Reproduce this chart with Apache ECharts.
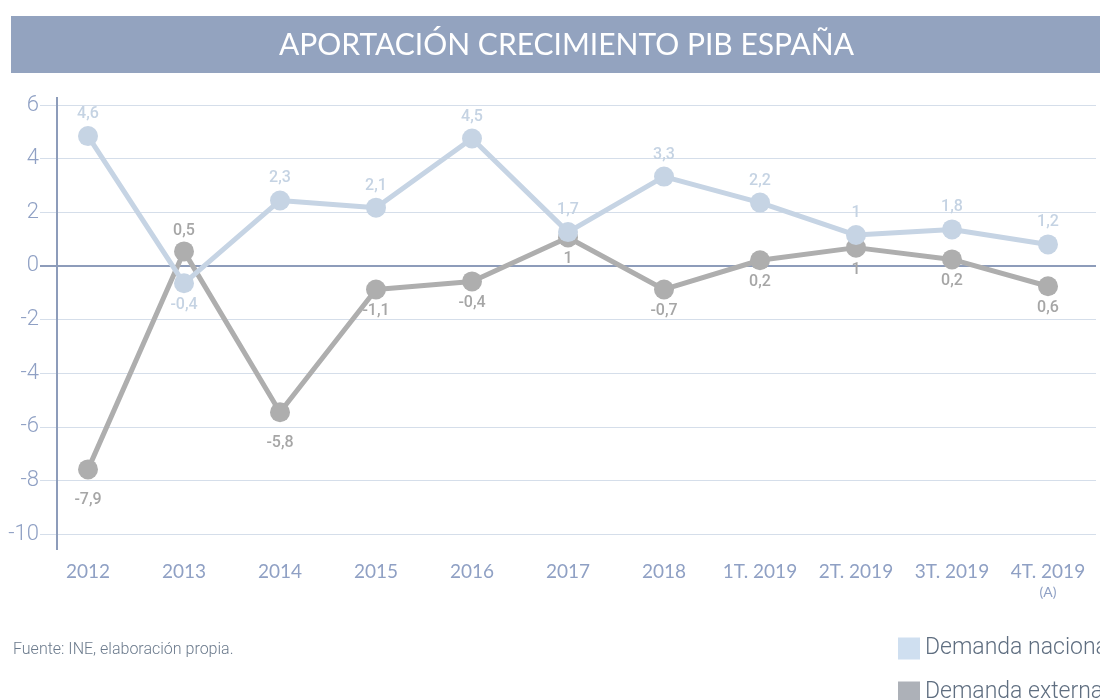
<!DOCTYPE html>
<html>
<head>
<meta charset="utf-8">
<script src="https://cdn.jsdelivr.net/npm/echarts@6/dist/echarts.min.js"></script>
<style>
  html, body { margin: 0; padding: 0; background: #fff; }
  #chart { width: 1100px; height: 700px; }
</style>
</head>
<body>
<div id="chart"></div>
<script>
// categorias y datos
const categories = ['2012', '2013', '2014', '2015', '2016', '2017', '2018', '1T. 2019', '2T. 2019', '3T. 2019', '4T. 2019']
const nacional = [4.84, -0.65, 2.44, 2.17, 4.75, 1.26, 3.33, 2.36, 1.15, 1.36, 0.80]
const externa = [-7.59, 0.54, -5.46, -0.88, -0.58, 1.06, -0.88, 0.21, 0.68, 0.24, -0.76]
// textos de las etiquetas tal como aparecen
const nacionalLabels = ['4,6', '-0,4', '2,3', '2,1', '4,5', '1,7', '3,3', '2,2', '1', '1,8', '1,2']
const externaLabels = ['-7,9', '0,5', '-5,8', '-1,1', '-0,4', '1', '-0,7', '0,2', '1', '0,2', '0,6']
const yTicks = [-10, -8, -6, -4, -2, 0, 2, 4, 6]

const chart = echarts.init(document.getElementById('chart'))

const nacionalData = nacional.map((v, i) => ({
    value: v,
    label: { position: i === 1 ? 'bottom' : 'top', distance: 4 }
}))
const externaData = externa.map((v, i) => ({
    value: v,
    label: {
        position: i === 1 ? 'top' : 'bottom',
        distance: (i === 0 || i === 2) ? 13 : (i === 1 ? 2 : 4)
    }
}))

const legendText = { color: '#5f6e80', fontFamily: 'Roboto', fontSize: 23, fontWeight: 300, padding: [0, 0, 0, 0] }

const option = {
    animation: false,
    title: [
        {
            text: 'APORTACIÓN CRECIMIENTO PIB ESPAÑA',
            left: 274,
            top: 25,
            textStyle: { color: '#fff', fontFamily: 'Lato', fontSize: 30, fontWeight: 'normal' }
        },
        {
            text: 'Fuente: INE, elaboración propia.',
            left: 8,
            top: 637,
            textStyle: { color: '#6b7a8c', fontFamily: 'Roboto', fontSize: 16, fontWeight: 300 }
        }
    ],
    graphic: [
        {
            type: 'rect',
            z: -1,
            shape: { x: 11, y: 16, width: 1089, height: 57 },
            style: { fill: '#93a3bf' }
        },
        {
            type: 'line',
            z: 10,
            shape: { x1: 57, y1: 97, x2: 57, y2: 550 },
            style: { stroke: '#8d9cba', lineWidth: 2 }
        }
    ],
    legend: [
        {
            left: 893,
            top: 632,
            itemWidth: 22,
            itemHeight: 22,
            itemGap: 5,
            icon: 'rect',
            textStyle: legendText,
            data: [{ name: 'Demanda nacional', itemStyle: { color: '#cfdff0' } }]
        },
        {
            left: 893,
            top: 676,
            itemWidth: 22,
            itemHeight: 22,
            icon: 'rect',
            textStyle: legendText,
            data: [{ name: 'Demanda externa', itemStyle: { color: '#adb1b8' } }]
        }
    ],
    grid: { left: 40, right: 4, top: 105, bottom: 166 },
    xAxis: {
        type: 'category',
        data: categories,
        boundaryGap: true,
        axisLine: { show: false },
        axisTick: { show: false },
        axisLabel: {
            interval: 0,
            margin: 28,
            color: '#8fa0c4',
            fontFamily: 'Lato',
            fontSize: 19,
            formatter: (v) => v === '4T. 2019' ? v + '\n{a|(A)}' : v,
            rich: { a: { fontSize: 14, color: '#8fa0c4', fontFamily: 'Lato', lineHeight: 22 } }
        }
    },
    yAxis: {
        type: 'value',
        min: yTicks[0],
        max: yTicks[yTicks.length - 1],
        interval: 2,
        axisLine: { show: false },
        axisTick: { show: false },
        axisLabel: {
            margin: 1,
            color: '#8fa0c4',
            fontFamily: 'Roboto',
            fontWeight: 300,
            fontSize: 22
        },
        splitLine: { lineStyle: { color: '#d5deea', width: 1.2 } }
    },
    series: [
        {
            name: 'Demanda nacional',
            type: 'line',
            data: nacionalData,
            symbol: 'circle',
            symbolSize: 20,
            z: 3,
            lineStyle: { color: '#c6d4e4', width: 5 },
            itemStyle: { color: '#c6d4e4' },
            label: {
                show: true,
                color: '#c5d3e3',
                fontFamily: 'Roboto',
                fontWeight: 500,
                fontSize: 16,
                formatter: (p) => nacionalLabels[p.dataIndex]
            },
            markLine: {
                silent: true,
                symbol: 'none',
                label: { show: false },
                lineStyle: { color: '#8d9cba', width: 2, type: 'solid' },
                data: [{ yAxis: 0 }],
                z: 1
            }
        },
        {
            name: 'Demanda externa',
            type: 'line',
            data: externaData,
            symbol: 'circle',
            symbolSize: 20,
            z: 2,
            lineStyle: { color: '#aeaeae', width: 5 },
            itemStyle: { color: '#aeaeae' },
            label: {
                show: true,
                color: '#a6a6a6',
                fontFamily: 'Roboto',
                fontWeight: 500,
                fontSize: 16,
                formatter: (p) => externaLabels[p.dataIndex]
            }
        }
    ]
}

chart.setOption(option)
</script>
</body>
</html>
